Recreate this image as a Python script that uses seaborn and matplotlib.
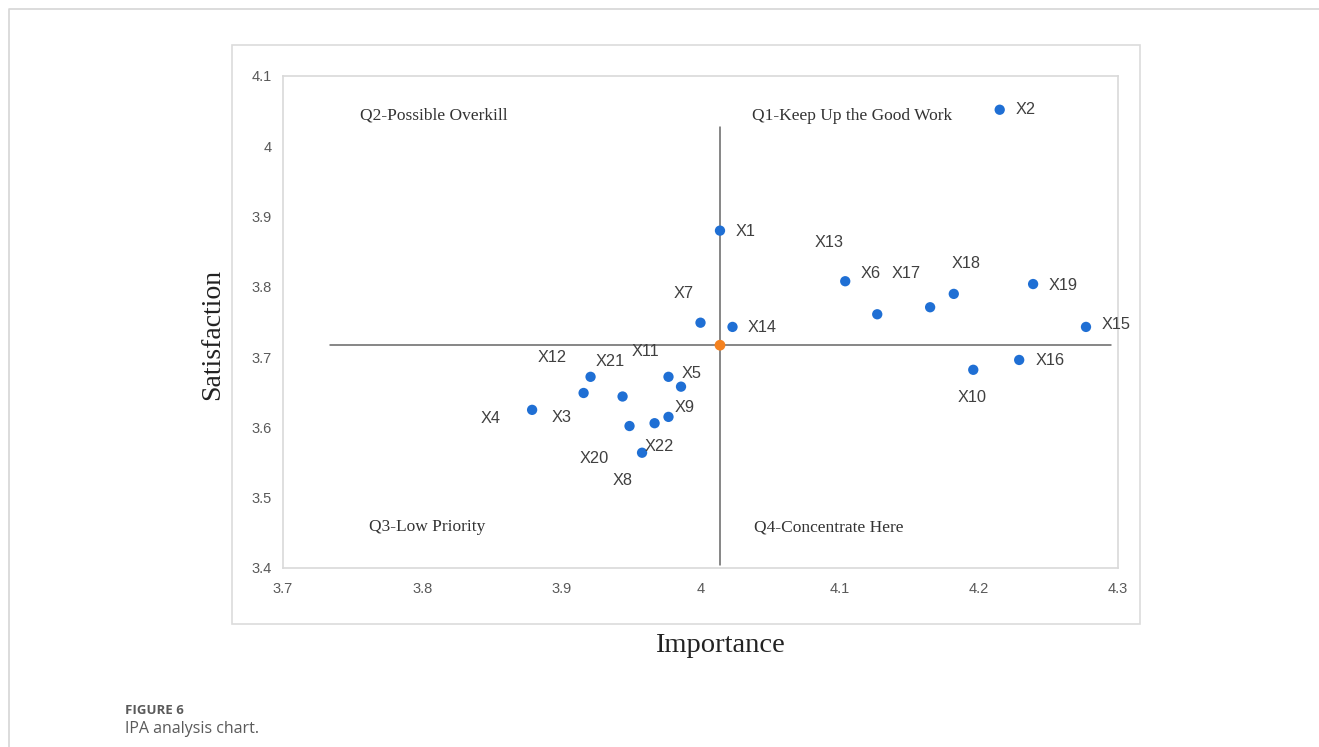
import matplotlib
matplotlib.use("Agg")
import matplotlib.pyplot as plt
from matplotlib.patches import Rectangle
from matplotlib.lines import Line2D
import seaborn as sns
import pandas as pd

# data
items = ['X1', 'X2', 'X3', 'X4', 'X5', 'X6', 'X7', 'X8', 'X9', 'X10', 'X11',
         'X12', 'X13', 'X14', 'X15', 'X16', 'X17', 'X18', 'X19', 'X20', 'X21', 'X22']
importance = [4.014, 4.215, 3.916, 3.879, 3.986, 4.127, 4.000, 3.958, 3.977, 4.196, 3.977,
              3.921, 4.104, 4.023, 4.277, 4.229, 4.165, 4.182, 4.239, 3.949, 3.944, 3.967]
satisfaction = [3.880, 4.052, 3.649, 3.625, 3.658, 3.761, 3.749, 3.564, 3.615, 3.682, 3.672,
                3.672, 3.808, 3.743, 3.743, 3.696, 3.771, 3.790, 3.804, 3.602, 3.644, 3.606]
mean_importance = 4.014
mean_satisfaction = 3.717

x_ticks = [3.7, 3.8, 3.9, 4.0, 4.1, 4.2, 4.3]
x_tick_labels = ['3.7', '3.8', '3.9', '4', '4.1', '4.2', '4.3']
y_ticks = [3.4, 3.5, 3.6, 3.7, 3.8, 3.9, 4.0, 4.1]
y_tick_labels = ['3.4', '3.5', '3.6', '3.7', '3.8', '3.9', '4', '4.1']

quadrant_names = ['Q2-Possible Overkill', 'Q1-Keep Up the Good Work',
                  'Q3-Low Priority', 'Q4-Concentrate Here']

# quadrant line extents
vline_range = [3.404, 4.027]
hline_range = [3.734, 4.295]

# label placement (pixels, right / up from the point)
label_offsets = {
    'X1': (26, -1), 'X2': (26, 0), 'X3': (-22, -25), 'X4': (-41, -9),
    'X5': (11, 13), 'X6': (-7, 41), 'X7': (-17, 29), 'X8': (-19, -28),
    'X9': (16, 9), 'X10': (-1, -28), 'X11': (-23, 25), 'X12': (-38, 19),
    'X13': (-16, 39), 'X14': (30, -1), 'X15': (30, 2), 'X16': (31, -1),
    'X17': (-24, 34), 'X18': (12, 30), 'X19': (30, -1), 'X20': (-35, -32),
    'X21': (-12, 35), 'X22': (5, -23),
}

df = pd.DataFrame({'item': items, 'importance': importance, 'satisfaction': satisfaction})

sns.set_theme(style="white")
plt.rcParams['font.family'] = ['Liberation Sans', 'DejaVu Sans']

W, H = 1319, 747
fig = plt.figure(figsize=(W / 100, H / 100), dpi=100)

# page frame and chart box
fig.add_artist(Line2D([9 / W, 9 / W, 1.0], [0.0, 1 - 9 / H, 1 - 9 / H],
                      transform=fig.transFigure, color='#d6d6d6', lw=1.2))
fig.add_artist(Rectangle((232 / W, 1 - 624 / H), 908 / W, 579 / H,
                         transform=fig.transFigure, fill=False,
                         edgecolor='#dcdcdc', lw=1.2))

ax = fig.add_axes([283 / W, 1 - 568 / H, 835 / W, 492 / H])

sns.scatterplot(data=df, x='importance', y='satisfaction', ax=ax,
                color='#1f6fd4', s=55, edgecolor='none', zorder=3)
ax.scatter([mean_importance], [mean_satisfaction], color='#f5821f', s=60,
           edgecolor='none', zorder=4)

ax.plot([mean_importance, mean_importance], vline_range, color='#666666', lw=1.1, zorder=2)
ax.plot(hline_range, [mean_satisfaction, mean_satisfaction], color='#666666', lw=1.1, zorder=2)

for name, x, y in zip(items, importance, satisfaction):
    dx, dy = label_offsets[name]
    ax.annotate(name, (x, y), xytext=(dx, dy), textcoords='offset pixels',
                ha='center', va='center', fontsize=11.8, color='#404040')

serif = ['Liberation Serif', 'DejaVu Serif']
quad_pos = [(434, 116), (852, 116), (427, 527), (829, 527)]
for name, (px, py) in zip(quadrant_names, quad_pos):
    fig.text(px / W, 1 - py / H, name, fontsize=12.5, color='#333333',
             family=serif, ha='center', va='center')

ax.set_xlim(3.7, 4.3)
ax.set_ylim(3.4, 4.1)
ax.set_xticks(x_ticks)
ax.set_xticklabels(x_tick_labels)
ax.set_yticks(y_ticks)
ax.set_yticklabels(y_tick_labels)
ax.tick_params(axis='both', length=0, labelsize=10.5, labelcolor='#595959')
ax.tick_params(axis='x', pad=10)
ax.tick_params(axis='y', pad=8)
for sp in ax.spines.values():
    sp.set_color('#d9d9d9')
    sp.set_linewidth(1.2)

ax.set_xlabel('')
ax.set_ylabel('')
fig.text(720 / W, 1 - 645 / H, 'Importance', family=serif, fontsize=20.5,
         color='#222222', ha='center', va='center')
fig.text(213 / W, 1 - 334 / H, 'Satisfaction', family=serif, fontsize=20,
         color='#222222', ha='center', va='center', rotation=90)

# caption
fig.text(125 / W, 1 - 710 / H, 'FIGURE 6', family=['Open Sans', 'DejaVu Sans'],
         fontsize=9.5, fontweight='bold', color='#5a5a5a', ha='left', va='center')
fig.text(125 / W, 1 - 729 / H, 'IPA analysis chart.', family=['Open Sans', 'DejaVu Sans'],
         fontsize=11.5, color='#5a5a5a', ha='left', va='center')

fig.savefig('out.png', dpi=100)
